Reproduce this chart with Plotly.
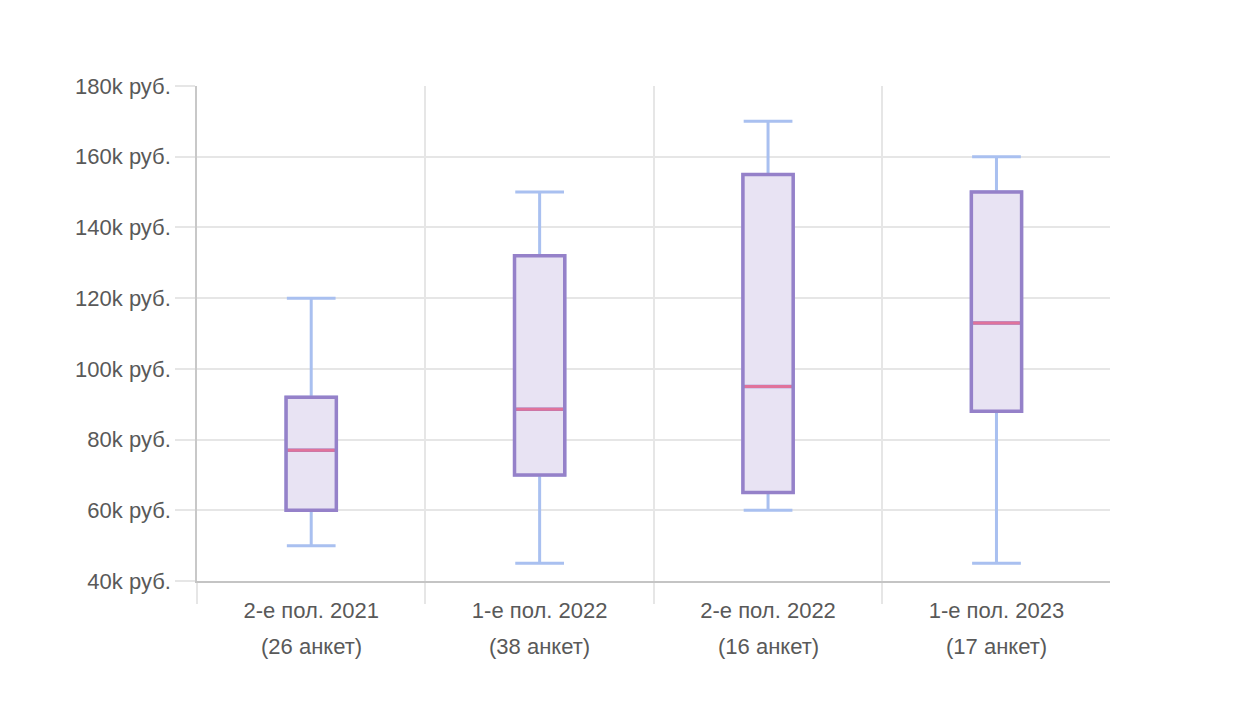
import plotly.graph_objects as go

categories = ["2-е пол. 2021", "1-е пол. 2022", "2-е пол. 2022", "1-е пол. 2023"]
survey_counts = [26, 38, 16, 17]
lower_whisker = [50000, 45000, 60000, 45000]
q1_values = [60000, 70000, 65000, 88000]
median_values = [77000, 88600, 95000, 113000]
q3_values = [92000, 132000, 155000, 150000]
upper_whisker = [120000, 150000, 170000, 160000]
y_tick_values = [40000, 60000, 80000, 100000, 120000, 140000, 160000, 180000]
y_tick_labels = ["40k руб.", "60k руб.", "80k руб.", "100k руб.", "120k руб.", "140k руб.", "160k руб.", "180k руб."]

BOX_LINE = "#9581C9"
BOX_FILL = "#E8E3F3"
MEDIAN = "#E0739B"
WHISKER = "#A9C0F0"
TEXT = "#595959"
GRID = "#E6E6E6"
FONT = "Liberation Sans, Arial, sans-serif"
FS = 22
BW = 0.22

fig = go.Figure()
# whiskers (blue)
fig.add_trace(go.Box(
    x=categories, q1=q1_values, median=median_values, q3=q3_values,
    lowerfence=lower_whisker, upperfence=upper_whisker,
    width=BW, whiskerwidth=0.97, line=dict(color=WHISKER, width=3),
    fillcolor="rgba(0,0,0,0)", boxpoints=False, hoverinfo="skip", showlegend=False))
# box (purple)
fig.add_trace(go.Box(
    x=categories, q1=q1_values, median=median_values, q3=q3_values,
    lowerfence=q1_values, upperfence=q3_values,
    width=BW, whiskerwidth=0, line=dict(color=BOX_LINE, width=3.5),
    fillcolor=BOX_FILL, boxpoints=False, showlegend=False))
# median (pink)
fig.add_trace(go.Box(
    x=categories, q1=median_values, median=median_values, q3=median_values,
    lowerfence=median_values, upperfence=median_values,
    width=BW - 0.016, whiskerwidth=0, line=dict(color=MEDIAN, width=3),
    fillcolor="rgba(0,0,0,0)", boxpoints=False, hoverinfo="skip", showlegend=False))

for cat, n in zip(categories, survey_counts):
    fig.add_annotation(x=cat, y=-0.133, xref="x", yref="paper",
                       text=f"({n} анкет)", showarrow=False,
                       yanchor="middle", xanchor="center",
                       font=dict(family=FONT, size=FS, color=TEXT))

fig.update_layout(
    width=1226, height=708,
    margin=dict(l=189, r=124, t=78, b=135),
    paper_bgcolor="white", plot_bgcolor="white",
    boxmode="overlay",
    font=dict(family=FONT, size=FS, color=TEXT),
    showlegend=False,
)
fig.update_xaxes(
    type="category", range=[-0.5, 3.497], tickson="boundaries",
    showgrid=True, gridcolor=GRID, gridwidth=1.5,
    ticks="outside", ticklen=21, tickcolor=GRID, tickwidth=1.5,
    showline=True, linecolor="#C4C4C4", linewidth=1.5,
    ticklabelstandoff=9,
    tickfont=dict(family=FONT, size=FS, color=TEXT),
)
fig.update_yaxes(
    range=[40000, 180000], tickvals=y_tick_values, ticktext=y_tick_labels,
    showgrid=True, gridcolor=GRID, gridwidth=1.5,
    ticks="outside", ticklen=20, tickcolor=GRID, tickwidth=1.5,
    showline=True, linecolor="#C8C8C8", linewidth=1.5, zeroline=False,
    tickfont=dict(family=FONT, size=FS, color=TEXT),
)

fig.write_html("out.html")
